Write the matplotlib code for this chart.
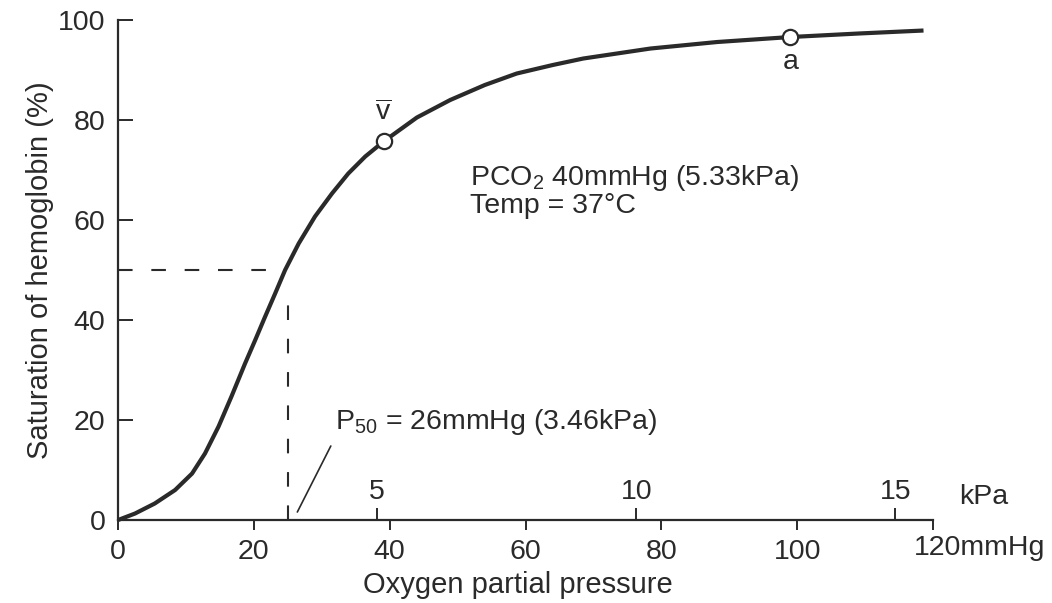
import numpy as np
import matplotlib
matplotlib.use('Agg')
import matplotlib.pyplot as plt

plt.rcParams['font.family'] = ['Liberation Sans', 'DejaVu Sans']
plt.rcParams['mathtext.default'] = 'regular'

# --- data (mmHg, % saturation) ---
po2_mmhg = [0, 2.5, 5.4, 8.4, 10.9, 12.8, 14.8, 16.7, 18.7, 20.2, 21.6,
            23.1, 24.6, 26.6, 29.0, 31.5, 33.9, 36.4, 39.1, 44.0, 48.9,
            54.0, 58.7, 64.0, 68.5, 78.4, 88.2, 99.0, 109.0, 118.6]
sat_pct = [0, 1.3, 3.3, 6.0, 9.3, 13.3, 18.7, 24.7, 31.3, 36.0, 40.5,
           45.2, 50.0, 55.3, 60.7, 65.3, 69.3, 72.7, 75.7, 80.5, 84.0,
           87.0, 89.3, 91.0, 92.3, 94.3, 95.6, 96.6, 97.3, 97.9]

points_x = [39.1, 99.0]
points_y = [75.8, 96.6]
point_labels = [r'$\overline{v}$', 'a']

p50_x = 25.0
p50_y = 50.0

mmhg_ticks = [0, 20, 40, 60, 80, 100, 120]
mmhg_labels = ['0', '20', '40', '60', '80', '100', '']
sat_ticks = [0, 20, 40, 60, 80, 100]
kpa_ticks = [5, 10, 15]
MMHG_PER_KPA = 7.63  # as drawn in the original figure

ink = '#2a2a2a'
fs = 20.5

fig = plt.figure(figsize=(10.52, 6.03), dpi=100)
ax = fig.add_axes([0.1122, 0.1376, 0.7747, 0.8292])

# P50 guide lines
ax.plot([0, p50_x - 1.2], [p50_y, p50_y], color=ink, lw=1.5,
        dashes=(7, 9), clip_on=False)
ax.plot([p50_x, p50_x], [0, p50_y - 4], color=ink, lw=1.5,
        dashes=(7, 9), clip_on=False)

# dissociation curve
ax.plot(po2_mmhg, sat_pct, color=ink, lw=3, solid_capstyle='butt',
        solid_joinstyle='round', clip_on=False, zorder=3)
ax.plot(points_x, points_y, 'o', ms=11, mfc='white', mec=ink, mew=1.6,
        zorder=4, clip_on=False)

ax.text(points_x[0], points_y[0] + 3.0, point_labels[0], ha='center',
        va='bottom', fontsize=fs, color=ink)
ax.text(points_x[1], points_y[1] - 2.4, point_labels[1], ha='center',
        va='top', fontsize=fs, color=ink)

ax.text(51.8, 68.4, r'PCO$_2$ 40mmHg (5.33kPa)', ha='left', va='center',
        fontsize=fs, color=ink)
ax.text(51.8, 62.8, 'Temp = 37°C', ha='left', va='center',
        fontsize=fs, color=ink)

ax.annotate(r'P$_{50}$ = 26mmHg (3.46kPa)', xy=(26.4, 1.6),
            xytext=(32.0, 19.6), ha='left', va='center', fontsize=fs,
            color=ink,
            arrowprops=dict(arrowstyle='-', color=ink, lw=1.2,
                            relpos=(0, 0), shrinkA=5, shrinkB=0))

# axes styling
ax.set_xlim(0, 120)
ax.set_ylim(0, 100)
for side in ['top', 'right']:
    ax.spines[side].set_visible(False)
for side in ['left', 'bottom']:
    ax.spines[side].set_linewidth(1.6)
    ax.spines[side].set_color(ink)

ax.set_xticks(mmhg_ticks)
ax.set_xticklabels(mmhg_labels)
ax.set_yticks(sat_ticks)
ax.tick_params(axis='x', direction='out', length=7, width=1.4, pad=7,
               labelsize=fs, colors=ink)
ax.tick_params(axis='y', direction='in', length=11, width=1.4, pad=9,
               labelsize=fs, colors=ink)
ax.annotate('120mmHg', xy=(120, 0), xytext=(-14, -11),
            textcoords='offset points', ha='left', va='top', fontsize=fs,
            color=ink, annotation_clip=False)

# kPa scale sitting on the bottom axis
sec = ax.secondary_xaxis(0, functions=(lambda x: x / MMHG_PER_KPA,
                                       lambda k: k * MMHG_PER_KPA))
sec.xaxis.set_ticks_position('top')
sec.set_xticks(kpa_ticks)
sec.tick_params(axis='x', direction='out', length=9, width=1.4, pad=2,
                labelsize=fs, colors=ink)
for sp in sec.spines.values():
    sp.set_visible(False)
ax.text(127.4, 4.6, 'kPa', ha='center', va='center', fontsize=fs,
        color=ink, clip_on=False)

ax.set_xlabel('Oxygen partial pressure', fontsize=21, color=ink)
ax.set_ylabel('Saturation of hemoglobin (%)', fontsize=21, color=ink)
ax.xaxis.set_label_coords(0.49, -0.102)
ax.yaxis.set_label_coords(-0.078, 0.5)

fig.savefig('out.png', dpi=100)
